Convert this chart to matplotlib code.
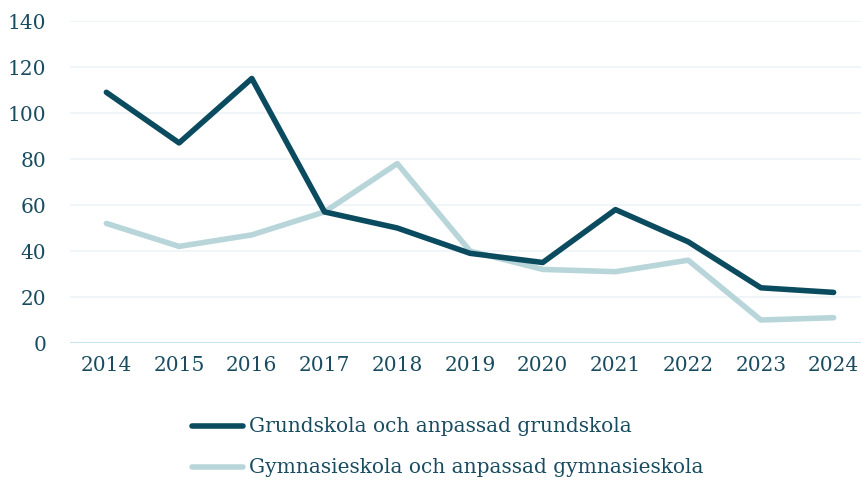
import matplotlib.pyplot as plt
from matplotlib.lines import Line2D

plt.rcParams['font.family'] = ['DejaVu Serif']

years = ['2014', '2015', '2016', '2017', '2018', '2019', '2020', '2021', '2022', '2023', '2024']
grundskola = [109, 87, 115, 57, 50, 39, 35, 58, 44, 24, 22]
gymnasieskola = [52, 42, 47, 57, 78, 40, 32, 31, 36, 10, 11]
labels = ['Grundskola och anpassad grundskola', 'Gymnasieskola och anpassad gymnasieskola']

dark = '#0b4b5f'
light = '#b8d6da'
text_col = '#1a4c60'

fig = plt.figure(figsize=(8.61, 4.81), dpi=100)
ax = fig.add_axes([70/861, (481-344)/481, 800/861, (344-22)/481])

x = range(len(years))
ax.plot(x, grundskola, color=dark, linewidth=4.0, solid_capstyle='round', zorder=3)
ax.plot(x, gymnasieskola, color=light, linewidth=4.0, solid_capstyle='round', zorder=2)

ax.set_xlim(-0.5, len(years) - 0.5)
ax.set_ylim(0, 140)
ax.set_yticks(range(0, 141, 20))
ax.set_xticks(list(x))
ax.set_xticklabels(years)
for v in range(20, 141, 20):
    ax.axhline(v, color='#eef4f8', linewidth=1.2, zorder=0)
ax.axhline(0, color='#c4e5f4', linewidth=1.5, zorder=1)
for s in ax.spines.values():
    s.set_visible(False)
ax.tick_params(length=0, labelsize=14.5, colors=text_col, pad=9)
ax.tick_params(axis='y', pad=17)

# legend drawn by hand below the plot
for i, (lab, col) in enumerate(zip(labels, [dark, light])):
    yy = 1 - (427 + 41 * i) / 481
    fig.add_artist(Line2D([192/861, 243/861], [yy, yy], transform=fig.transFigure,
                          color=col, linewidth=4.0, solid_capstyle='round'))
    fig.text(249/861, yy, lab, fontsize=14.5, color=text_col, va='center', ha='left')

fig.savefig('out.png', dpi=100)
